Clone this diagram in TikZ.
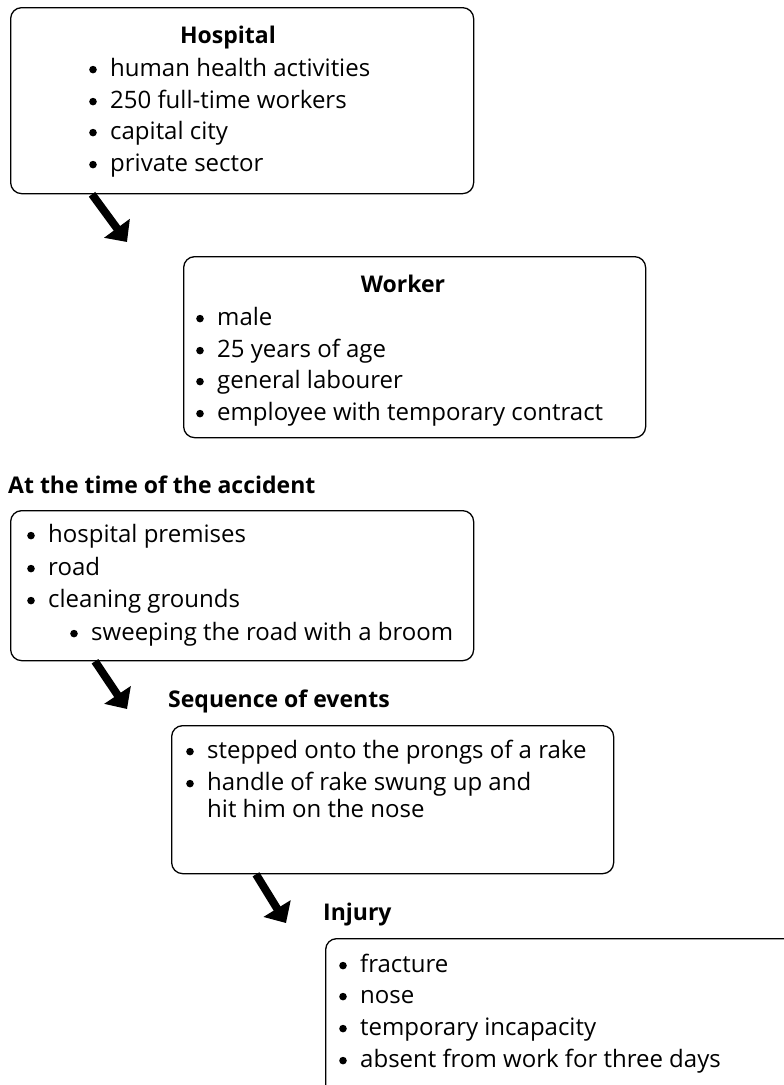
\documentclass[tikz,border=0pt]{standalone}
\usepackage{fontspec}
\setmainfont{Open Sans}
\usetikzlibrary{arrows.meta,calc}
% round bullet followed by the item text
\newcommand{\dotmark}{\tikz[baseline=0pt]\fill (3.8pt,6.4pt) circle[radius=3.8pt];}
\newcommand{\itm}[1]{\makebox[21pt][l]{\dotmark}#1}
\begin{document}
\begin{tikzpicture}[x=1pt,y=-1pt,
  panel/.style={draw, line width=1.3pt, rounded corners=11pt, inner sep=0pt, anchor=north west},
  itemtext/.style={anchor=base west, inner sep=0pt, font=\fontsize{24}{28}\selectfont},
  titletext/.style={anchor=base, inner sep=0pt, font=\fontsize{23}{28}\selectfont\bfseries},
  headtext/.style={anchor=base west, inner sep=0pt, font=\fontsize{23}{28}\selectfont\bfseries},
  flowarrow/.style={line width=8pt, -{Triangle[width=31pt,length=17pt]}}]
\useasboundingbox (0,0) rectangle (784,1085);
\clip (0,0) rectangle (784,1085);

% panels
\node[panel, minimum width=463pt, minimum height=186pt] (hosp) at (10,7) {};
\node[panel, minimum width=462pt, minimum height=181pt] (work) at (183,256) {};
\node[panel, minimum width=463pt, minimum height=150pt] (time) at (10,510) {};
\node[panel, minimum width=442pt, minimum height=148pt] (seq) at (171,725) {};
\node[panel, minimum width=480pt, minimum height=175pt] (inj) at (325,938) {};

% hospital
\node[titletext] (hospT) at (228,43) {Hospital};
\node[itemtext] (h1) at (89,76) {\itm{human health activities}};
\node[itemtext] (h2) at (89,108) {\itm{250 full-time workers}};
\node[itemtext] (h3) at (89,139) {\itm{capital city}};
\node[itemtext] (h4) at (89,171) {\itm{private sector}};

% worker
\node[titletext] (workT) at (403,292) {Worker};
\node[itemtext] (w1) at (196,325) {\itm{male}};
\node[itemtext] (w2) at (196,357) {\itm{25 years of age}};
\node[itemtext] (w3) at (196,388) {\itm{general labourer}};
\node[itemtext] (w4) at (196,420) {\itm{employee with temporary contract}};

% time of the accident
\node[headtext] (timeH) at (8,493) {At the time of the accident};
\node[itemtext] (t1) at (27,542) {\itm{hospital premises}};
\node[itemtext] (t2) at (27,575) {\itm{road}};
\node[itemtext] (t3) at (27,607) {\itm{cleaning grounds}};
\node[itemtext] (t4) at (70,640) {\itm{sweeping the road with a broom}};

% sequence of events
\node[headtext] (seqH) at (168,707) {Sequence of events};
\node[itemtext] (s1) at (186,758) {\itm{stepped onto the prongs of a rake}};
\node[itemtext] (s2) at (186,790) {\itm{handle of rake swung up and}};
\node[itemtext] (s3) at (207,817) {hit him on the nose};

% injury
\node[headtext] (injH) at (323,920) {Injury};
\node[itemtext] (i1) at (339,972) {\itm{fracture}};
\node[itemtext] (i2) at (339,1003) {\itm{nose}};
\node[itemtext] (i3) at (339,1035) {\itm{temporary incapacity}};
\node[itemtext] (i4) at (339,1067) {\itm{absent from work for three days}};

% arrows
\coordinate (a1s) at ($(hosp.south west)+(82,0)$);
\coordinate (a1e) at (127,242);
\coordinate (a2s) at ($(time.south west)+(85,0)$);
\coordinate (a2e) at (127,709);
\coordinate (a3s) at ($(seq.south west)+(85,0)$);
\coordinate (a3e) at (286,923);
\draw[flowarrow] (a1s) -- (a1e);
\draw[flowarrow] (a2s) -- (a2e);
\draw[flowarrow] (a3s) -- (a3e);
\end{tikzpicture}
\end{document}
